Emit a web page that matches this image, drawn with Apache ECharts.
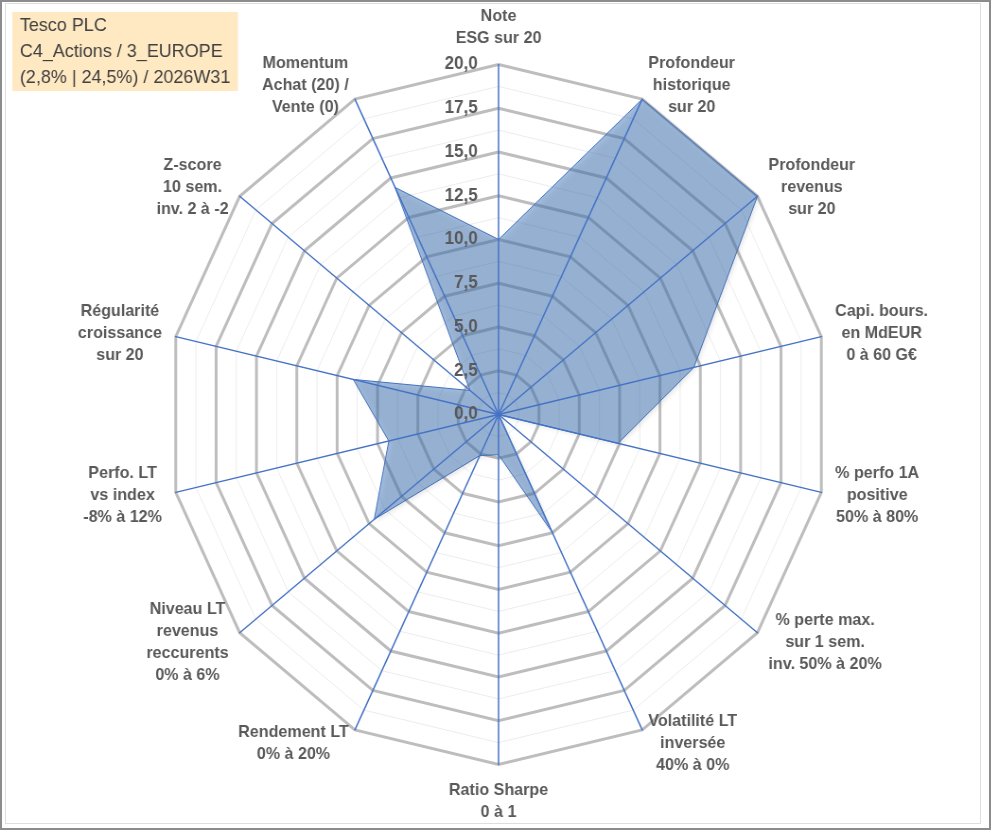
<!DOCTYPE html>
<html>
<head>
<meta charset="utf-8">
<title>Tesco PLC - radar</title>
<script src="https://cdn.jsdelivr.net/npm/echarts@6/dist/echarts.min.js"></script>
<style>
  html, body { margin: 0; padding: 0; background: #fff; overflow: hidden; }
  #frame { position: absolute; left: 0; top: 0; width: 991px; height: 830px; box-sizing: border-box; border: 2px solid #8c8c8c; }
  #inner { position: absolute; left: 5px; top: 3px; width: 976px; height: 821px; box-sizing: border-box; border: 1px solid #dedede; }
  /* le graphique d'origine est un peu tassé en largeur */
  #chart { position: absolute; left: 0; top: 0; width: 1048px; height: 830px; transform: scaleX(0.946); transform-origin: 0 0; }
</style>
</head>
<body>
<div id="frame"></div>
<div id="inner"></div>
<div id="chart"></div>
<script>
// axes dans le sens horaire, en partant du haut
var axes = [
  'Note\nESG sur 20',
  'Profondeur\nhistorique\nsur 20',
  'Profondeur\nrevenus\nsur 20',
  'Capi. bours.\nen MdEUR\n0 à 60 G€',
  '% perfo 1A\npositive\n50% à 80%',
  '% perte max.\nsur 1 sem.\ninv. 50% à 20%',
  'Volatilité LT\ninversée\n40% à 0%',
  'Ratio Sharpe\n0 à 1',
  'Rendement LT\n0% à 20%',
  'Niveau LT\nrevenus\nreccurents\n0% à 6%',
  'Perfo. LT\nvs index\n-8% à 12%',
  'Régularité\ncroissance\nsur 20',
  'Z-score\n10 sem.\ninv. 2 à -2',
  'Momentum\nAchat (20) /\nVente (0)'
];
var scores = [10, 20, 20, 12.1, 7.4, 0, 7.5, 2.3, 2.6, 9.6, 6.8, 9.0, 2.2, 14.4];
var scoreMax = 20;
var ticks = 8;          // 0,0 -> 20,0 par pas de 2,5
var titleLines = ['Tesco PLC', 'C4_Actions / 3_EUROPE', '(2,8% | 24,5%) / 2026W31'];
var serieName = 'Tesco PLC';

var font = 'Liberation Sans, Arial, sans-serif';

// echarts tourne dans le sens anti-horaire : on inverse l'ordre (sauf le premier)
var order = [0];
for (var i = axes.length - 1; i > 0; i--) order.push(i);

function makeIndicators(withLabel) {
  return order.map(function (k, j) {
    var ind = { name: axes[k], max: scoreMax, min: 0 };
    if (withLabel && j === 0) {
      ind.axisLabel = {
        show: true,
        margin: 22,
        color: '#595959',
        fontWeight: 'bold',
        fontSize: 18,
        fontFamily: font,
        formatter: function (v) { return Number(v).toFixed(1).replace('.', ','); }
      };
    }
    return ind;
  });
}

var center = [527, 414.5];
var radius = 350;

var myChart = echarts.init(document.getElementById('chart'));
var option = {
  backgroundColor: 'transparent',
  animation: false,
  title: {
    text: titleLines.join('\n'),
    left: 13,
    top: 12,
    padding: [1, 8, 0, 8],
    backgroundColor: '#FFE9C2',
    textStyle: { fontFamily: font, fontSize: 19, fontWeight: 'normal', color: '#404040', lineHeight: 26 }
  },
  radar: [
    {   // lignes fines intermédiaires
      center: center, radius: radius, startAngle: 90, shape: 'polygon',
      splitNumber: ticks * 2,
      indicator: makeIndicators(false),
      axisName: { show: false },
      axisLine: { show: false },
      axisTick: { show: false },
      axisLabel: { show: false },
      splitArea: { show: false },
      splitLine: { lineStyle: { color: '#ECECEC', width: 1 } }
    },
    {   // grille principale
      center: center, radius: radius, startAngle: 90, shape: 'polygon',
      splitNumber: ticks,
      indicator: makeIndicators(false),
      axisName: { show: false },
      axisLine: { show: false },
      axisTick: { show: false },
      axisLabel: { show: false },
      splitArea: { show: false },
      splitLine: { lineStyle: { color: '#BDBDBD', width: 3 } }
    },
    {   // axes bleus + textes par dessus la surface
      z: 3,
      center: center, radius: radius, startAngle: 90, shape: 'polygon',
      splitNumber: ticks,
      indicator: makeIndicators(true),
      nameGap: 15,
      axisName: {
        color: '#595959',
        fontWeight: 'bold',
        fontSize: 17,
        fontFamily: font,
        formatter: function (name) {
          return name.split('\n').map(function (l) { return '{c|' + l + '}'; }).join('\n');
        },
        rich: {
          c: { align: 'center', color: '#595959', fontWeight: 'bold', fontSize: 17, fontFamily: font, lineHeight: 22 }
        }
      },
      axisLine: { show: true, lineStyle: { color: '#4472C4', width: 1.5 } },
      axisTick: { show: false },
      axisLabel: { show: false },
      splitArea: { show: false },
      splitLine: { show: false }
    }
  ],
  series: [{
    name: serieName,
    type: 'radar',
    radarIndex: 1,
    symbol: 'none',
    lineStyle: { color: '#4472C4', width: 1 },
    areaStyle: {
      color: 'rgba(72,122,190,0.72)',
      shadowBlur: 5,
      shadowOffsetX: 2,
      shadowOffsetY: 2,
      shadowColor: 'rgba(0,0,0,0.2)'
    },
    data: [{ name: serieName, value: order.map(function (k) { return scores[k]; }) }]
  }]
};
myChart.setOption(option);
</script>
</body>
</html>
